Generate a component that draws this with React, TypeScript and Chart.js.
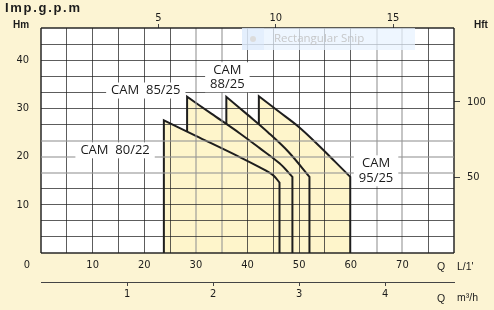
import React, { useEffect, useRef } from "react";
import { Chart, registerables } from "chart.js";

Chart.register(...registerables);

// ---- axis tick labels ----
const flowLabelsLpm = [0, 10, 20, 30, 40, 50, 60, 70];
const flowGridLpm = [0, 5, 10, 15, 20, 25, 30, 35, 40, 45, 50, 55, 60, 65, 70, 75, 80];
const gpmLabels = [5, 10, 15];
const m3hLabels = [1, 2, 3, 4];
const headLabelsM = [10, 20, 30, 40];
const headGridSteps = [0, 1, 2, 3, 4, 5, 6, 7, 8, 9, 10, 11, 12, 13, 14]; // thirds of 10 m
const headLabelsFt = [50, 100];

// ---- pump curves: flow (L/min) and head (m); corner points repeated to keep them sharp ----
const cam8022Flow = [23.8, 23.8, 23.8, 30, 38.5, 42.3, 45, 46.2, 46.2, 46.2];
const cam8022Head = [0, 27.5, 27.5, 24.3, 19.9, 17.8, 16.1, 14.6, 14.6, 0];

const cam8525Flow = [28.3, 28.3, 28.3, 33, 38.4, 42.3, 46.2, 48.7, 48.7, 48.7];
const cam8525Head = [0, 32.4, 32.4, 28.9, 24.9, 21.8, 18.6, 15.8, 15.8, 0];

const cam8825Flow = [35.9, 35.9, 35.9, 40, 44, 48, 52, 52, 52];
const cam8825Head = [0, 32.4, 32.4, 28.7, 25.0, 20.9, 15.8, 15.8, 0];

const cam9525Flow = [42.2, 42.2, 42.2, 46, 50, 54, 57, 59.9, 59.9, 59.9];
const cam9525Head = [0, 32.5, 32.5, 29.4, 26.1, 22.1, 18.9, 15.8, 15.8, 0];

const seriesNames = ["CAM 80/22", "CAM 85/25", "CAM 88/25", "CAM 95/25"];

// label texts with anchor (flow L/min, head m)
const curveLabelLines = [
  { lines: ["CAM  80/22"], q: 14.35, h: [21.3] },
  { lines: ["CAM  85/25"], q: 20.3, h: [33.7] },
  { lines: ["CAM", "88/25"], q: 36.1, h: [37.9, 35.0] },
  { lines: ["CAM", "95/25"], q: 64.9, h: [18.6, 15.5] },
];

const grayFlowLines = [30, 35, 65, 70];
const grayHeadLines = [50 / 3, 20, 70 / 3];

const BG = "#fcf4d3";
const FILL = "#fef5cb";
const TICK_FONT = { family: '"Liberation Sans Narrow", "DejaVu Sans Condensed", "Liberation Sans", sans-serif', size: 11 };
const TICK_COLOR = "#1c1c1c";
const GRID_DARK = "rgba(30,30,30,0.72)";
const GRID_GRAY = "rgba(150,150,150,0.55)";

const series = [
  { name: seriesNames[0], flow: cam8022Flow, head: cam8022Head },
  { name: seriesNames[1], flow: cam8525Flow, head: cam8525Head },
  { name: seriesNames[2], flow: cam8825Flow, head: cam8825Head },
  { name: seriesNames[3], flow: cam9525Flow, head: cam9525Head },
];

const near = (a: number, list: number[]) => list.some((v) => Math.abs(v - a) < 0.01);

const decor = {
  id: "decor",
  beforeDraw(chart: any) {
    const { ctx, chartArea: a, width, height } = chart;
    ctx.save();
    ctx.fillStyle = BG;
    ctx.fillRect(0, 0, width, height);
    ctx.fillStyle = "#ffffff";
    ctx.fillRect(a.left, a.top, a.right - a.left, a.bottom - a.top);
    ctx.restore();
  },
  afterDraw(chart: any) {
    const { ctx } = chart;
    const sx = chart.scales.x;
    const sy = chart.scales.y;
    ctx.save();
    // curve labels
    ctx.font = '13px "Open Sans", "Noto Sans", sans-serif';
    ctx.textAlign = "center";
    ctx.textBaseline = "middle";
    curveLabelLines.forEach((l) => {
      const cx = sx.getPixelForValue(l.q);
      const ys = l.h.map((h) => sy.getPixelForValue(h));
      const w = Math.max(...l.lines.map((t) => ctx.measureText(t).width));
      ctx.fillStyle = "#ffffff";
      const top = Math.min(...ys) - 8;
      const bot = Math.max(...ys) + 8;
      ctx.fillRect(cx - w / 2 - 5, top, w + 10, bot - top);
      ctx.fillStyle = "#1a1a1a";
      l.lines.forEach((t, i) => ctx.fillText(t, cx, ys[i]));
    });

    // snip overlay
    ctx.fillStyle = "rgba(232,242,255,0.72)";
    ctx.fillRect(242, 28, 173, 22);
    ctx.fillStyle = "rgba(215,230,250,0.45)";
    ctx.fillRect(242, 28, 22, 22);
    ctx.fillStyle = "#dcdcdc";
    ctx.beginPath();
    ctx.arc(253, 39, 3, 0, Math.PI * 2);
    ctx.fill();
    ctx.fillStyle = "rgba(190,190,190,0.85)";
    ctx.font = '11.5px "Open Sans", sans-serif';
    ctx.textAlign = "left";
    ctx.fillText("Rectangular Snip", 274, 39);

    // unit titles
    ctx.fillStyle = "#1c1c1c";
    ctx.font = 'bold 13px "Liberation Sans", Arial, sans-serif';
    (ctx as any).letterSpacing = "1.7px";
    ctx.textBaseline = "alphabetic";
    ctx.fillText("Imp.g.p.m", 5, 12);
    (ctx as any).letterSpacing = "0px";
    ctx.font = 'bold 10px "Liberation Sans Narrow", "Liberation Sans", sans-serif';
    ctx.fillText("Hm", 13, 28);
    ctx.fillText("Hft", 474, 28);
    ctx.font = '10.5px "Liberation Sans Narrow", "Liberation Sans", sans-serif';
    ctx.fillText("Q", 437, 270);
    ctx.fillText("L/1'", 457, 270);
    ctx.fillText("Q", 437, 302);
    ctx.fillText("m\u00B3/h", 457, 301);
    ctx.restore();
  },
};

export default function App() {
  const ref = useRef<HTMLCanvasElement | null>(null);
  useEffect(() => {
    document.body.style.margin = "0";
    document.body.style.background = BG;
    const chart = new Chart(ref.current as HTMLCanvasElement, {
      type: "line",
      data: {
        datasets: series.map((s) => ({
          label: s.name,
          data: s.flow.map((q, i) => ({ x: q, y: s.head[i] })),
          borderColor: "#1e1e1e",
          borderWidth: 2,
          backgroundColor: FILL,
          fill: "origin",
          pointRadius: 0,
          tension: 0.35,
          borderJoinStyle: "miter" as const,
          xAxisID: "x",
          yAxisID: "y",
        })),
      },
      options: {
        animation: false,
        responsive: false,
        layout: { padding: 0 },
        plugins: { legend: { display: false }, tooltip: { enabled: false } },
        scales: {
          x: {
            type: "linear",
            position: "bottom",
            weight: 0,
            min: 0,
            max: 80,
            afterBuildTicks: (s: any) => {
              s.ticks = flowGridLpm.map((v) => ({ value: v }));
            },
            afterFit: (s: any) => {
              s.height = 29;
            },
            grid: {
              z: 1,
              drawTicks: false,
              color: (c: any) => (near(c.tick.value, grayFlowLines) ? GRID_GRAY : GRID_DARK),
              lineWidth: (c: any) =>
                c.tick.value === 0 || c.tick.value === 80 ? 2 : near(c.tick.value, grayFlowLines) ? 2 : 1,
            },
            border: { display: false },
            ticks: {
              autoSkip: false,
              maxRotation: 0,
              padding: 6,
              font: TICK_FONT,
              color: TICK_COLOR,
              callback: (v: any) =>
                flowLabelsLpm.includes(v) ? (v === 0 ? "0         " : String(v)) : "",
            },
          },
          x3: {
            type: "linear",
            position: "bottom",
            weight: 1,
            min: 0,
            max: 4.8,
            afterBuildTicks: (s: any) => {
              s.ticks = m3hLabels.map((v) => ({ value: v }));
            },
            afterFit: (s: any) => {
              s.height = 28;
            },
            grid: { drawOnChartArea: false, drawTicks: true, tickLength: 4, color: "#444" },
            border: { display: true, color: "#444", width: 1 },
            ticks: { autoSkip: false, maxRotation: 0, padding: 2, font: TICK_FONT, color: TICK_COLOR },
          },
          x2: {
            type: "linear",
            position: "top",
            min: 0,
            max: 80 / 4.546,
            afterBuildTicks: (s: any) => {
              s.ticks = gpmLabels.map((v) => ({ value: v }));
            },
            afterFit: (s: any) => {
              s.height = 28;
            },
            grid: { drawOnChartArea: false, drawTicks: true, tickLength: 4, color: "#444" },
            border: { display: false },
            ticks: { autoSkip: false, maxRotation: 0, padding: -1, font: TICK_FONT, color: TICK_COLOR },
          },
          y: {
            type: "linear",
            position: "left",
            min: 0,
            max: 140 / 3,
            afterBuildTicks: (s: any) => {
              s.ticks = headGridSteps.map((i) => ({ value: (i * 10) / 3 }));
            },
            afterFit: (s: any) => {
              s.width = 41;
            },
            grid: {
              z: 1,
              drawTicks: false,
              color: (c: any) => (near(c.tick.value, grayHeadLines) ? GRID_GRAY : GRID_DARK),
              lineWidth: (c: any) =>
                c.index === 0 || c.index === 14 ? 2 : near(c.tick.value, grayHeadLines) ? 2 : 1,
            },
            border: { display: false },
            ticks: {
              autoSkip: false,
              padding: 12,
              font: TICK_FONT,
              color: TICK_COLOR,
              callback: (v: any) => {
                const r = Math.round(v);
                return Math.abs(v - r) < 0.01 && headLabelsM.includes(r) ? String(r) : "";
              },
            },
          },
          y2: {
            type: "linear",
            position: "right",
            min: 0,
            max: 148.8,
            afterBuildTicks: (s: any) => {
              s.ticks = headLabelsFt.map((v) => ({ value: v }));
            },
            afterFit: (s: any) => {
              s.width = 40;
            },
            grid: { drawOnChartArea: false, drawTicks: true, tickLength: 6, color: "#444" },
            border: { display: false },
            ticks: { autoSkip: false, padding: 7, font: TICK_FONT, color: TICK_COLOR },
          },
        },
      },
      plugins: [decor],
    } as any);
    return () => chart.destroy();
  }, []);
  return (
    <div style={{ width: 494, height: 310 }}>
      <canvas ref={ref} width={494} height={310} style={{ display: "block", width: 494, height: 310 }} />
    </div>
  );
}
